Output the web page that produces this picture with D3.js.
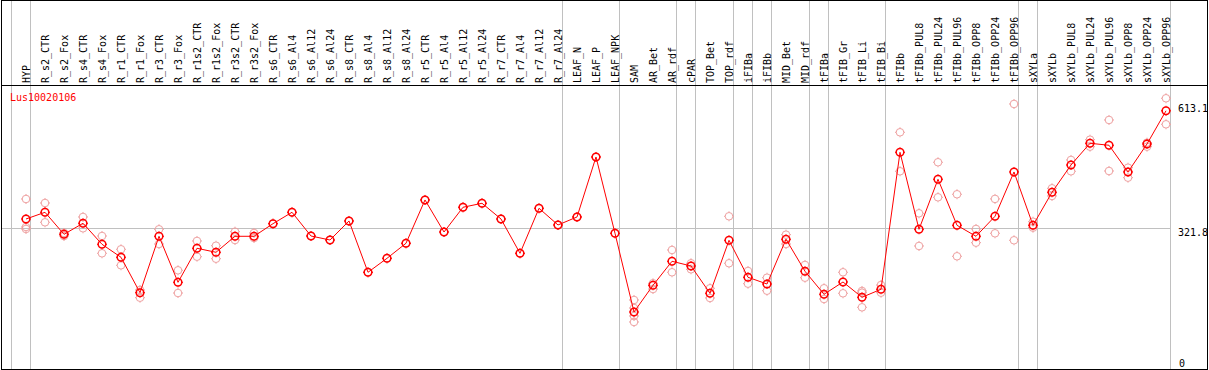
<!DOCTYPE html>

<html>
    <head>
        <script src="https://d3js.org/d3.v7.min.js"></script>
        <style>
            body { margin: 0; background: #fff; }
            text { font-family: "DejaVu Sans Mono", "Liberation Mono", monospace; font-size: 10px; }
        </style>
    </head>
    <body>
        <script>
            //gene name shown in the top left corner
            let gene = "Lus10020106";

            //sample names, one column each
            let samples = ["HYP","R_s2_CTR","R_s2_Fox","R_s4_CTR","R_s4_Fox","R_r1_CTR","R_r1_Fox","R_r3_CTR","R_r3_Fox",
                "R_r1s2_CTR","R_r1s2_Fox","R_r3s2_CTR","R_r3s2_Fox","R_s6_CTR","R_s6_Al4","R_s6_Al12","R_s6_Al24",
                "R_s8_CTR","R_s8_Al4","R_s8_Al12","R_s8_Al24","R_r5_CTR","R_r5_Al4","R_r5_Al12","R_r5_Al24",
                "R_r7_CTR","R_r7_Al4","R_r7_Al12","R_r7_Al24","LEAF_N","LEAF_P","LEAF_NPK","SAM","AR_Bet","AR_rdf",
                "cPAR","TOP_Bet","TOP_rdf","iFIBa","iFIBb","MID_Bet","MID_rdf","tFIBa","tFIB_Gr","tFIB_Li","tFIB_Bi",
                "tFIBb","tFIBb_PUL8","tFIBb_PUL24","tFIBb_PUL96","tFIBb_OPP8","tFIBb_OPP24","tFIBb_OPP96",
                "sXYLa","sXYLb","sXYLb_PUL8","sXYLb_PUL24","sXYLb_PUL96","sXYLb_OPP8","sXYLb_OPP24","sXYLb_OPP96"];

            //mean expression per sample
            let means = [345.3,361.9,307.4,334.7,282.7,250.5,162.9,302.5,188.6,
                272.8,262.9,302.5,302.5,333.7,361.9,303.2,293.3,
                340.4,213.4,248.0,285.2,392.4,313.1,374.3,384.2,
                345.3,260.4,371.8,330.5,350.3,498.8,309.9,115.1,181.2,240.6,
                229.0,161.4,292.6,201.0,184.4,295.1,215.9,158.9,189.4,151.5,171.3,
                510.4,319.8,443.6,329.7,302.5,352.0,461.7,
                329.7,411.4,479.0,532.7,527.8,461.7,531.0,613.1];

            //single replicates per sample
            let reps = [[394.8,325.5,320.6],[384.9,337.1],[310.7,303.2],[350.3,322.3],[303.2,260.4],[270.3,230.7],[169.6,150.5],[319.8,283.4],[218.3,162.1],
                [290.9,252.0],[279.2,247.0],[313.9,293.3],[310.7,298.3],[333.7],[361.9],[303.2],[293.3],
                [340.4],[213.4],[248.0],[285.2],[392.4],[313.1],[374.3],[384.2],
                [345.3],[260.4],[371.8],[330.5],[350.3],[498.8],[309.9],[144.8,125.0,105.2,90.4],[186.2,172.0],[268.6,213.4],
                [235.7,220.8],[173.8,149.8],[352.0,235.7],[216.6,185.2],[200.0,167.8],[306.5,283.4],[231.5,200.0],[173.8,147.3],[213.4,161.4],[167.1,162.9,126.7],[181.9,162.9],
                [559.9,463.4],[359.4,278.5],[485.7,399.0],[406.5,253.0],[320.6,286.7],[395.0,309.9],[630.0,292.6],
                [338.6,323.8],[421.3,402.3],[491.4,463.4],[541.6,524.3],[590.4,464.1],[472.3,447.6],[534.2,524.3],[644.1,579.7]];

            //sample index after which a group separator is drawn (-1 = before first)
            let groupEnds = [-1,0,28,31,34,35,37,38,39,41,42,45,52,53,60];

            //value axis labels
            let yMax = 613.1;
            let yTicks = [613.1, 321.8, 0];

            let width = 1209;
            let height = 370;

            let svg = d3.select('body').append('svg')
                .attr('width', width)
                .attr('height', height);

            let x = d3.scalePoint()
                .domain(samples)
                .range([26, 1166]);

            let y = d3.scaleLinear()
                .domain([0, yMax])
                .range([358.5, 110.8]);

            //gray grid
            svg.append('line')
                .attr('x1', 1).attr('x2', 1170.5)
                .attr('y1', Math.round(y(yTicks[1])) + 0.5).attr('y2', Math.round(y(yTicks[1])) + 0.5)
                .attr('stroke', '#c0c0c0');

            svg.selectAll('.sep')
                .data(groupEnds)
                .enter()
                .append('line')
                .attr('class', 'sep')
                .attr('x1', function (d) { return 26 + 19 * d + 4.5; })
                .attr('x2', function (d) { return 26 + 19 * d + 4.5; })
                .attr('y1', 0)
                .attr('y2', height)
                .attr('stroke', '#c0c0c0');

            //frame and header line
            svg.append('rect')
                .attr('x', 1.5).attr('y', 0.5)
                .attr('width', 1206).attr('height', 369)
                .attr('fill', 'none')
                .attr('stroke', '#000');
            svg.append('line')
                .attr('x1', 1).attr('x2', 1208)
                .attr('y1', 85.5).attr('y2', 85.5)
                .attr('stroke', '#000');

            //sample names, rotated
            svg.selectAll('.lab')
                .data(samples)
                .enter()
                .append('text')
                .attr('class', 'lab')
                .attr('transform', function (d) { return 'translate(' + (x(d) + 4) + ',83) rotate(-90)'; })
                .attr('fill', '#000')
                .text(function (d) { return d; });

            svg.append('text')
                .attr('x', 10).attr('y', 101)
                .attr('fill', '#ff0000')
                .text(gene);

            //value labels at the right
            svg.selectAll('.ylab')
                .data(yTicks)
                .enter()
                .append('text')
                .attr('class', 'ylab')
                .attr('x', function (d) { return d == 0 ? 1179 : 1178; })
                .attr('y', function (d, i) { return i == 0 ? y(d) + 1 : y(d) + 8; })
                .attr('fill', '#000')
                .text(function (d) { return d; });

            //marker: circle with little ticks
            function marker(g, color, sw) {
                g.append('circle')
                    .attr('r', 3.8)
                    .attr('fill', 'none')
                    .attr('stroke', color)
                    .attr('stroke-width', sw);
                g.append('path')
                    .attr('d', 'M0,-5V-4M0,4V5M-5,0H-4M4,0H5')
                    .attr('stroke', color)
                    .attr('stroke-width', 1);
            }

            //replicates
            let flat = [];
            for (let i = 0; i < samples.length; i++) {
                for (let j = 0; j < reps[i].length; j++) {
                    flat.push({s: samples[i], v: reps[i][j]});
                }
            }
            svg.selectAll('.rep')
                .data(flat)
                .enter()
                .append('g')
                .attr('class', 'rep')
                .attr('transform', function (d) { return 'translate(' + x(d.s) + ',' + y(d.v) + ')'; })
                .each(function () { marker(d3.select(this), '#eea0a0', 1); });

            //mean line
            let line = d3.line()
                .x(function (d, i) { return x(samples[i]); })
                .y(function (d) { return y(d); });

            svg.append('path')
                .datum(means)
                .attr('d', line)
                .attr('fill', 'none')
                .attr('stroke', '#ff0000')
                .attr('stroke-width', 1);

            svg.selectAll('.mean')
                .data(means)
                .enter()
                .append('g')
                .attr('class', 'mean')
                .attr('transform', function (d, i) { return 'translate(' + x(samples[i]) + ',' + y(d) + ')'; })
                .each(function () { marker(d3.select(this), '#ff0000', 1.5); });

        </script>
    </body>
</html>
